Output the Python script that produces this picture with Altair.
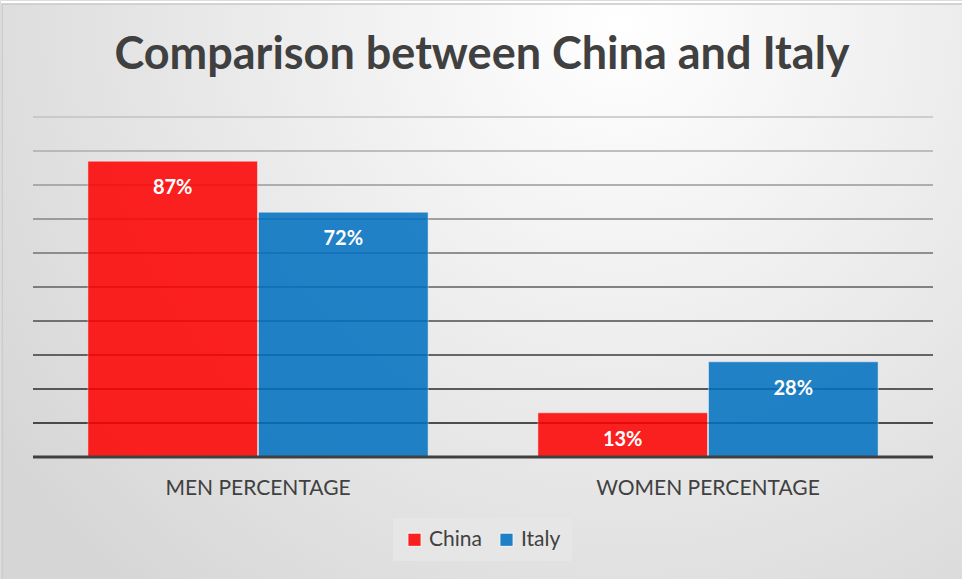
import altair as alt
import pandas as pd

categories = ["MEN PERCENTAGE", "WOMEN PERCENTAGE"]
series = ["China", "Italy"]
china_values = [87, 13]
italy_values = [72, 28]
grid_values = [10, 20, 30, 40, 50, 60, 70, 80, 90, 100]
title_text = "Comparison between China and Italy"

rows = []
for i, c in enumerate(categories):
    rows.append({"category": c, "country": "China", "value": china_values[i]})
    rows.append({"category": c, "country": "Italy", "value": italy_values[i]})
df = pd.DataFrame(rows)
df["label"] = df["value"].astype(str) + "%"

cat_df = pd.DataFrame({"category": categories})
grid_df = pd.DataFrame({"value": grid_values})
base_df = pd.DataFrame({"value": [0]})
one = pd.DataFrame({"a": [0]})

W, H = 962, 579
FONT = "Lato"
TXT = "#404040"

xscale = alt.Scale(domain=categories, range=[33, 933], paddingInner=0.244, paddingOuter=0.122)
yscale = alt.Scale(domain=[0, 100], range=[457, 117])
offscale = alt.Scale(domain=series, paddingInner=0.006)

bg = alt.Chart(one).mark_rect(
    fill={
        "gradient": "radial",
        "x1": 0.64, "y1": 0.22, "r1": 0,
        "x2": 0.64, "y2": 0.22, "r2": 0.78,
        "stops": [
            {"offset": 0, "color": "#ffffff"},
            {"offset": 1, "color": "#d6d6d6"},
        ],
    },
    stroke="#c8c8c8",
    strokeWidth=1.5,
).encode(x=alt.value(2), x2=alt.value(W + 5), y=alt.value(4), y2=alt.value(H + 5))

grid = alt.Chart(grid_df).mark_rule(strokeWidth=1.6).encode(
    y=alt.Y("value:Q", scale=yscale, axis=None),
    x=alt.value(33),
    x2=alt.value(933),
    stroke=alt.Stroke("value:Q", scale=alt.Scale(domain=[10, 100], range=["#1a1a1a", "#c2c2c2"]), legend=None),
)

bars = alt.Chart(df).mark_bar(opacity=0.86, stroke="white", strokeOpacity=0.45, strokeWidth=1).encode(
    x=alt.X("category:N", scale=xscale, axis=None, sort=categories),
    xOffset=alt.XOffset("country:N", scale=offscale, sort=series),
    y=alt.Y("value:Q", scale=yscale, axis=None),
    color=alt.Color(
        "country:N",
        scale=alt.Scale(domain=series, range=["#FF0000", "#0070C0"]),
        legend=alt.Legend(
            orient="none", legendX=393, legendY=518, direction="horizontal", title=None,
            fillColor="#e6e6e6", padding=11, symbolType="square", symbolSize=175,
            symbolOpacity=0.86, symbolStrokeColor="white", symbolStrokeWidth=1,
            labelFont=FONT, labelFontSize=21, labelColor=TXT, labelOffset=4,
            columnPadding=14,
        ),
    ),
)

baseline = alt.Chart(base_df).mark_rule(strokeWidth=3, color="#404040").encode(
    y=alt.Y("value:Q", scale=yscale, axis=None),
    x=alt.value(33),
    x2=alt.value(933),
)

labels = alt.Chart(df).mark_text(
    color="white", font=FONT, fontWeight="bold", fontSize=20, baseline="middle", dy=27
).encode(
    x=alt.X("category:N", scale=xscale, axis=None, sort=categories),
    xOffset=alt.XOffset("country:N", scale=offscale, sort=series),
    y=alt.Y("value:Q", scale=yscale, axis=None),
    text="label:N",
)

cat_labels = alt.Chart(cat_df).mark_text(
    font=FONT, fontSize=21, color=TXT, baseline="middle"
).encode(
    x=alt.X("category:N", scale=xscale, axis=None, sort=categories),
    y=alt.value(489),
    text="category:N",
)

title = alt.Chart(one).mark_text(
    text=title_text, font=FONT, fontWeight="bold", fontSize=45, color=TXT, baseline="middle"
).encode(x=alt.value(482), y=alt.value(55))

chart = alt.layer(bg, grid, bars, baseline, labels, cat_labels, title).properties(
    width=W, height=H, autosize=alt.AutoSizeParams(type="none"), padding=0
).configure_view(stroke=None).configure(background="#ffffff")

chart.save("out.html", embed_options={"renderer": "svg", "actions": False})
